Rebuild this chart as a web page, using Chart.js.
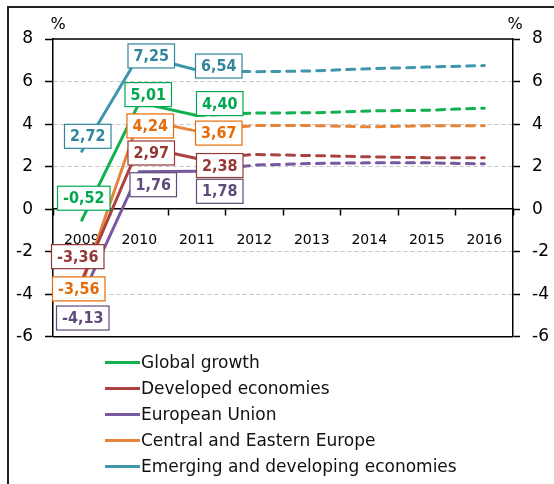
<!DOCTYPE html>
<html>
<head>
<meta charset="utf-8">
<script src="https://cdn.jsdelivr.net/npm/chart.js@4"></script>
<style>
body { margin: 0; background: #fff; }
#wrap { position: relative; width: 554px; height: 484px; overflow: hidden; }
#frame { position: absolute; left: 7px; top: 6px; width: 600px; height: 600px; border-left: 2px solid #222; border-top: 2px solid #222; }
#chart { position: absolute; left: 0; top: 0; }
#legend { position: absolute; left: 105px; top: 349px; font-family: "DejaVu Sans", sans-serif; font-size: 17px; color: #111; }
.item { height: 26px; display: flex; align-items: center; white-space: nowrap; }
.swatch { width: 35px; height: 3px; margin-right: 1px; }
</style>
</head>
<body>
<div id="wrap">
  <div id="frame"></div>
  <canvas id="chart" width="554" height="359"></canvas>
  <div id="legend"></div>
</div>
<script>
// data
const years = ["2009", "2010", "2011", "2012", "2013", "2014", "2015", "2016"];
const globalGrowth   = [-0.52, 5.01, 4.40, 4.52, 4.53, 4.62, 4.65, 4.75];
const developed      = [-3.36, 2.97, 2.38, 2.57, 2.52, 2.46, 2.42, 2.42];
const europeanUnion  = [-4.13, 1.76, 1.78, 2.07, 2.15, 2.18, 2.18, 2.13];
const centralEastern = [-3.56, 4.24, 3.67, 3.93, 3.93, 3.87, 3.92, 3.92];
const emerging       = [2.72, 7.25, 6.54, 6.46, 6.50, 6.60, 6.68, 6.75];
const yTicks = [-6, -4, -2, 0, 2, 4, 6, 8];

// label box offsets from the point (first three years carry boxes)
const boxOffsets = [
    [[2, -22], [9, -8], [23, -12]],
    [[-4, -24], [12, 7], [23, 7]],
    [[1, 21], [14, 13], [23, 20]],
    [[-3, 4], [11, 7], [22, 2]],
    [[6, -15], [12, 1], [22, -4]]
];
const textColors = ["#00a84f", "#953735", "#604a7b", "#e46c0a", "#31859c"];

function series(label, values, color) {
    return {
        label: label,
        data: values,
        borderColor: color,
        backgroundColor: color,
        borderWidth: 3,
        borderCapStyle: 'round',
        pointRadius: 0,
        tension: 0,
        segment: {
            borderDash: c => c.p0DataIndex >= 2 ? [8, 7] : undefined
        }
    };
}

const boxLabels = {
    id: 'boxLabels',
    beforeDatasetsDraw(chart) {
        const {ctx, chartArea} = chart;
        ctx.save();
        ctx.strokeStyle = '#000';
        ctx.lineWidth = 1.5;
        ctx.beginPath();
        ctx.moveTo(chartArea.left, chartArea.top);
        ctx.lineTo(chartArea.right, chartArea.top);
        ctx.moveTo(chartArea.left, chartArea.bottom);
        ctx.lineTo(chartArea.right, chartArea.bottom);
        ctx.stroke();
        ctx.restore();
    },
    afterDatasetsDraw(chart) {
        const ctx = chart.ctx;
        ctx.save();
        ctx.font = 'bold 16px "DejaVu Sans Condensed", "DejaVu Sans"';
        ctx.textAlign = 'center';
        ctx.textBaseline = 'middle';
        chart.data.datasets.forEach((ds, di) => {
            const meta = chart.getDatasetMeta(di);
            boxOffsets[di].forEach((off, i) => {
                const pt = meta.data[i];
                const txt = ds.data[i].toFixed(2).replace('.', ',');
                const w = ctx.measureText(txt).width + 11, h = 24;
                const cx = pt.x + off[0], cy = pt.y + off[1];
                ctx.fillStyle = '#fff';
                ctx.fillRect(cx - w / 2, cy - h / 2, w, h);
                ctx.strokeStyle = textColors[di];
                ctx.lineWidth = 1.2;
                ctx.strokeRect(cx - w / 2, cy - h / 2, w, h);
                ctx.fillStyle = textColors[di];
                ctx.fillText(txt, cx, cy + 1);
            });
        });
        // % units over both axes
        ctx.font = '16px "DejaVu Sans"';
        ctx.fillStyle = '#000';
        ctx.fillText('%', chart.chartArea.left + 5, chart.chartArea.top - 14);
        ctx.fillText('%', chart.chartArea.right + 2, chart.chartArea.top - 14);
        ctx.restore();
    }
};

const hideEdge = c => (c.tick && [0, 8, -6].includes(c.tick.value)) ? 'rgba(0,0,0,0)' : '#c4c4c4';

const chart = new Chart(document.getElementById('chart'), {
    type: 'line',
    data: {
        labels: years,
        datasets: [
            series('Global growth', globalGrowth, '#12b04f'),
            series('Developed economies', developed, '#aa4340'),
            series('European Union', europeanUnion, '#7659a0'),
            series('Central and Eastern Europe', centralEastern, '#e6853a'),
            series('Emerging and developing economies', emerging, '#3f97ad')
        ]
    },
    options: {
        responsive: false,
        animation: false,
        layout: { padding: { top: 39, bottom: 15, left: 0, right: 0 } },
        plugins: {
            legend: { display: false },
            tooltip: { enabled: false }
        },
        scales: {
            x: {
                type: 'category',
                offset: true,
                position: { y: 0 },
                grid: { drawOnChartArea: false, drawTicks: true, tickLength: 6, tickColor: '#000', tickWidth: 1.5, offset: true },
                border: { display: true, color: '#000', width: 1.5 },
                ticks: { color: '#000', font: { family: 'DejaVu Sans', size: 14 }, padding: 17, maxRotation: 0 }
            },
            y: {
                position: 'left',
                min: -6, max: 8,
                afterBuildTicks: s => { s.ticks = yTicks.map(v => ({ value: v })); },
                afterFit: s => { s.width = 53; },
                grid: { color: hideEdge, lineWidth: 1, tickColor: '#000', tickLength: 8, tickWidth: 1.5 },
                border: { display: true, color: '#000', width: 1.5, dash: [4, 3] },
                ticks: { color: '#000', font: { family: 'DejaVu Sans', size: 17 }, padding: 12 }
            },
            y2: {
                position: 'right',
                min: -6, max: 8,
                afterBuildTicks: s => { s.ticks = yTicks.map(v => ({ value: v })); },
                afterFit: s => { s.width = 41; },
                grid: { drawOnChartArea: false, tickColor: '#000', tickLength: 7, tickWidth: 1.5 },
                border: { display: true, color: '#000', width: 1.5 },
                ticks: { color: '#000', font: { family: 'DejaVu Sans', size: 17 }, padding: 12 }
            }
        }
    },
    plugins: [boxLabels]
});

// legend as a single column, left aligned
const legend = document.getElementById('legend');
chart.data.datasets.forEach(ds => {
    const row = document.createElement('div');
    row.className = 'item';
    const sw = document.createElement('span');
    sw.className = 'swatch';
    sw.style.background = ds.borderColor;
    row.appendChild(sw);
    row.appendChild(document.createTextNode(ds.label));
    legend.appendChild(row);
});
</script>
</body>
</html>
